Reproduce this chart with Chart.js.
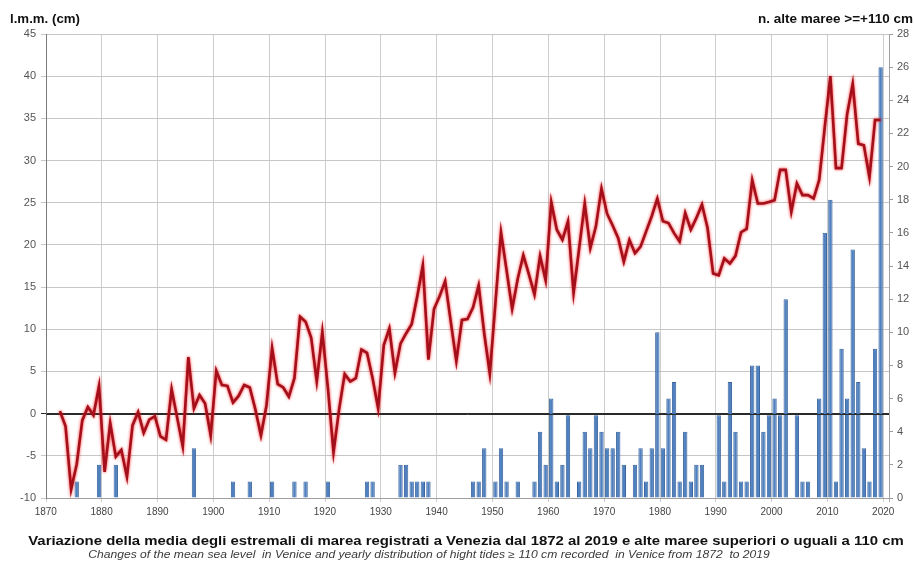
<!DOCTYPE html>
<html>
<head>
<meta charset="utf-8">
<script src="https://cdn.jsdelivr.net/npm/chart.js@4.4.1/dist/chart.umd.min.js"></script>
<style>
  html, body { margin: 0; padding: 0; background: #fff; }
  #wrap { width: 914px; height: 572px; }
</style>
</head>
<body>
<div id="wrap"><canvas id="c" width="914" height="572"></canvas></div>
<script>
// Venice: yearly mean of tide extremes (cm, l.m.m.) and number of high tides >= +110 cm
const firstYear = 1872;

// mean sea level, 1872 .. 2019
const seaLevel = [
  0.3, -1.5, -9.0, -6.0, -0.8, 0.8, -0.2, 3.3,                 // 1872-1879
  -6.9, -1.1, -5.1, -4.3, -7.5, -1.4, 0.2, -2.3, -0.7, -0.3,   // 1880s
  -2.7, -3.1, 2.9, -0.5, -3.9, 6.7, 0.6, 2.2, 1.2, -2.6,       // 1890s
  5.1, 3.4, 3.3, 1.3, 2.1, 3.4, 3.1, 0.5, -2.6, 1.0,           // 1900s
  7.8, 3.5, 3.1, 2.0, 4.2, 11.5, 10.9, 9.0, 3.8, 9.7,          // 1910s
  3.0, -4.6, 0.5, 4.7, 3.8, 4.2, 7.6, 7.2, 4.2, 0.6,           // 1920s
  8.1, 10.1, 4.8, 8.3, 9.5, 10.6, 13.9, 17.6, 6.4, 12.4,       // 1930s
  13.9, 15.7, 10.9, 6.2, 11.1, 11.2, 12.6, 15.2, 9.5, 4.7,     // 1940s
  13.1, 21.5, 17.0, 12.4, 16.0, 18.8, 16.5, 14.1, 18.7, 15.8,  // 1950s
  25.1, 21.8, 20.6, 22.8, 14.3, 19.6, 24.9, 19.6, 22.2, 26.7,  // 1960s
  23.7, 22.3, 20.8, 18.0, 20.6, 19.0, 19.8, 21.6, 23.4, 25.5,  // 1970s
  22.8, 22.6, 21.4, 20.4, 23.8, 21.8, 23.2, 24.8, 22.0, 16.6,  // 1980s
  16.4, 18.4, 17.8, 18.7, 21.5, 21.9, 27.7, 24.9, 24.9, 25.1,  // 1990s
  25.3, 28.9, 28.9, 23.9, 27.3, 25.9, 25.9, 25.5, 27.7, 34.0,  // 2000s
  40.0, 29.1, 29.1, 35.5, 39.1, 32.0, 31.8, 28.0, 34.8, 34.8   // 2010s
];

// high tides >= +110 cm per year, 1872 .. 2019
const highTides = [
  0, 0, 0, 1, 0, 0, 0, 2,            // 1872-1879
  0, 0, 2, 0, 0, 0, 0, 0, 0, 0,      // 1880s
  0, 0, 0, 0, 0, 0, 3, 0, 0, 0,      // 1890s
  0, 0, 0, 1, 0, 0, 1, 0, 0, 0,      // 1900s
  1, 0, 0, 0, 1, 0, 1, 0, 0, 0,      // 1910s
  1, 0, 0, 0, 0, 0, 0, 1, 1, 0,      // 1920s
  0, 0, 0, 2, 2, 1, 1, 1, 1, 0,      // 1930s
  0, 0, 0, 0, 0, 0, 1, 1, 3, 0,      // 1940s
  1, 3, 1, 0, 1, 0, 0, 1, 4, 2,      // 1950s
  6, 1, 2, 5, 0, 1, 4, 3, 5, 4,      // 1960s
  3, 3, 4, 2, 0, 2, 3, 1, 3, 10,     // 1970s
  3, 6, 7, 1, 4, 1, 2, 2, 0, 0,      // 1980s
  5, 1, 7, 4, 1, 1, 8, 8, 4, 5,      // 1990s
  6, 5, 12, 0, 5, 1, 1, 0, 6, 16,    // 2000s
  18, 1, 9, 6, 15, 7, 3, 1, 9, 26    // 2010s
];

// category axis: one slot per year
const axisFirst = 1870, axisLast = 2020;
const years = [];
for (let y = axisFirst; y <= axisLast; y++) years.push(y);

const levelRange = { min: -10, max: 45, step: 5 };
const tideRange = { min: 0, max: 28, step: 2 };

const leftTitle = 'l.m.m. (cm)';
const rightTitle = 'n. alte maree >=+110 cm';
const mainTitle = 'Variazione della media degli estremali di marea registrati a Venezia dal 1872 al 2019 e alte maree superiori o uguali a 110 cm';
const subTitle = 'Changes of the mean sea level  in Venice and yearly distribution of hight tides \u2265 110 cm recorded  in Venice from 1872  to 2019';

const levelData = years.map(y => {
  const i = y - firstYear;
  return (i >= 0 && i < seaLevel.length) ? seaLevel[i] : null;
});
const tideData = years.map(y => {
  const i = y - firstYear;
  return (i >= 0 && i < highTides.length && highTides[i] > 0) ? highTides[i] : null;
});

const FONT = '"Liberation Sans", Arial, sans-serif';

// red line with a soft red halo; zero line laid over the bars
const lineGlow = {
  id: 'lineGlow',
  beforeDatasetDraw(chart, args) {
    if (args.index !== 0) return;
    const ctx = chart.ctx;
    ctx.save();
    ctx.shadowColor = 'rgba(255, 20, 20, 0.9)';
    ctx.shadowBlur = 3;
  },
  afterDatasetDraw(chart, args) {
    const ctx = chart.ctx;
    if (args.index === 0) { ctx.restore(); return; }
    if (args.index === 1) {
      const y0 = Math.round(chart.scales.yLevel.getPixelForValue(0)) + 0.5;
      const a = chart.chartArea;
      ctx.save();
      ctx.strokeStyle = '#2a2a2a';
      ctx.lineWidth = 1;
      ctx.beginPath();
      ctx.moveTo(a.left, y0);
      ctx.lineTo(a.right, y0);
      ctx.stroke();
      ctx.restore();
    }
  }
};

// text drawn with a horizontal stretch factor
function wideText(ctx, text, x, y, font, stretch, align) {
  ctx.save();
  ctx.font = font;
  ctx.textAlign = align;
  ctx.translate(x, y);
  ctx.scale(stretch, 1);
  ctx.fillText(text, 0, 0);
  ctx.restore();
}

// axis headings and captions
const captions = {
  id: 'captions',
  afterDraw(chart) {
    const ctx = chart.ctx;
    ctx.save();
    ctx.textBaseline = 'alphabetic';
    ctx.fillStyle = '#111';
    wideText(ctx, leftTitle, 10, 23, 'bold 12.5px ' + FONT, 1.06, 'left');
    wideText(ctx, rightTitle, 913, 23, 'bold 12.5px ' + FONT, 1.08, 'right');
    wideText(ctx, mainTitle, 466, 545, 'bold 13.5px ' + FONT, 1.105, 'center');
    ctx.fillStyle = '#3a3a3a';
    wideText(ctx, subTitle, 429, 558, 'italic 10.5px ' + FONT, 1.155, 'center');
    ctx.restore();
  }
};

new Chart(document.getElementById('c'), {
  type: 'bar',
  data: {
    labels: years,
    datasets: [
      {
        type: 'line',
        label: 'l.m.m.',
        data: levelData,
        yAxisID: 'yLevel',
        borderColor: '#a30f1a',
        borderWidth: 2.6,
        pointRadius: 0,
        tension: 0,
        order: 0
      },
      {
        type: 'bar',
        label: 'alte maree',
        data: tideData,
        yAxisID: 'yTides',
        backgroundColor: '#4f80bf',
        borderColor: '#3a659e',
        borderWidth: 1,
        barPercentage: 0.78,
        categoryPercentage: 1,
        order: 1
      }
    ]
  },
  options: {
    responsive: false,
    animation: false,
    devicePixelRatio: 1,
    layout: { padding: { top: 34, left: 0, right: 0, bottom: 50 } },
    plugins: { legend: { display: false }, tooltip: { enabled: false } },
    scales: {
      x: {
        type: 'category',
        offset: true,
        grid: {
          offset: true,
          tickLength: 4,
          color: ctx => {
            const y = years[ctx.index];
            if (y === undefined) return '#b0b0b0';
            return (y % 10 === 0) ? '#cdcdcd' : 'rgba(0,0,0,0)';
          }
        },
        border: { color: '#a0a0a0' },
        ticks: {
          autoSkip: false,
          maxRotation: 0,
          minRotation: 0,
          padding: 4,
          labelOffset: -3,
          color: '#444',
          font: { family: FONT, size: 10 },
          callback: (v, i) => (years[i] % 10 === 0 ? String(years[i]) : '')
        },
        afterFit: s => { s.height = 24; }
      },
      yLevel: {
        position: 'left',
        min: levelRange.min,
        max: levelRange.max,
        ticks: {
          stepSize: levelRange.step,
          padding: 5,
          color: '#555',
          font: { family: FONT, size: 11 }
        },
        grid: {
          tickLength: 5,
          color: ctx => (ctx.tick && ctx.tick.value === 0 ? '#2a2a2a' : '#c6c6c6')
        },
        border: { color: '#7a7a7a' },
        afterFit: s => { s.width = 46; }
      },
      yTides: {
        position: 'right',
        min: tideRange.min,
        max: tideRange.max,
        ticks: {
          stepSize: tideRange.step,
          padding: 4,
          color: '#555',
          font: { family: FONT, size: 11 }
        },
        grid: { drawOnChartArea: false, tickLength: 4, color: '#9a9a9a' },
        border: { color: '#a0a0a0' },
        afterFit: s => { s.width = 25; }
      }
    }
  },
  plugins: [lineGlow, captions]
});
</script>
</body>
</html>
